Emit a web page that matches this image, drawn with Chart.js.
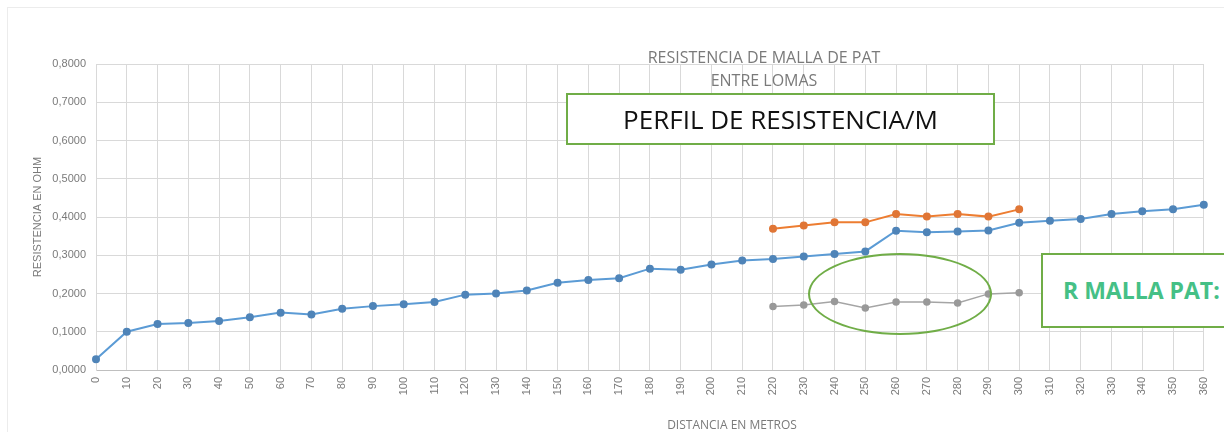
<!DOCTYPE html>
<html lang="es">

<head>
  <meta charset="UTF-8">
  <title>Resistencia de malla de PAT - Entre Lomas</title>
  <script src="https://cdn.jsdelivr.net/npm/chart.js"></script>
  <style>
    html, body {
      margin: 0;
      padding: 0;
      background: #fff;
      overflow: hidden;
    }
    .wrap {
      position: relative;
      width: 1224px;
      height: 432px;
    }
    .frame {
      position: absolute;
      left: 7px;
      top: 7px;
      width: 1230px;
      height: 440px;
      border: 1px solid #ececec;
    }
    .title {
      position: absolute;
      left: 564px;
      width: 400px;
      text-align: center;
      font-family: "Open Sans", sans-serif;
      font-size: 16px;
      color: #7a7a7a;
    }
    .xtitle {
      position: absolute;
      left: 582px;
      top: 416px;
      width: 300px;
      text-align: center;
      font-family: "Open Sans", sans-serif;
      font-size: 12px;
      color: #7a7a7a;
    }
    .box-perfil {
      position: absolute;
      left: 566px;
      top: 93px;
      width: 425px;
      height: 48px;
      border: 2px solid #70ad47;
      background: #fff;
      font-family: "Open Sans", sans-serif;
      font-size: 26px;
      line-height: 48px;
      text-align: center;
      color: #111;
    }
    .box-malla {
      position: absolute;
      left: 1041px;
      top: 253px;
      width: 220px;
      height: 71px;
      border: 2px solid #70ad47;
      background: #fff;
      font-family: "Open Sans", sans-serif;
      font-weight: bold;
      font-size: 23px;
      line-height: 71px;
      color: #45c086;
      padding-left: 20px;
      white-space: nowrap;
    }
    .ellipse {
      position: absolute;
      left: 808px;
      top: 253px;
      width: 180px;
      height: 78px;
      border: 2px solid #70ad47;
      border-radius: 50%;
    }
  </style>
</head>

<body>
  <div class="wrap">
    <canvas id="resChart" width="1224" height="432"></canvas>
    <div class="frame"></div>
    <div class="title" style="top:46px">RESISTENCIA DE MALLA DE PAT</div>
    <div class="title" style="top:69px">ENTRE LOMAS</div>
    <div class="box-perfil">PERFIL DE RESISTENCIA/M</div>
    <div class="ellipse"></div>
    <div class="box-malla">R MALLA PAT: 0</div>
    <div class="xtitle">DISTANCIA EN METROS</div>
  </div>

  <script>
    // distancias (m)
    const distancias = ['0', '10', '20', '30', '40', '50', '60', '70', '80', '90', '100', '110', '120', '130', '140',
      '150', '160', '170', '180', '190', '200', '210', '220', '230', '240', '250', '260', '270', '280', '290', '300',
      '310', '320', '330', '340', '350', '360'];

    // perfil de resistencia (azul)
    const serieAzul = [0.028, 0.100, 0.120, 0.123, 0.128, 0.138, 0.150, 0.145, 0.160, 0.167, 0.172, 0.178, 0.197,
      0.200, 0.208, 0.228, 0.235, 0.240, 0.265, 0.262, 0.276, 0.286, 0.290, 0.297, 0.303, 0.310, 0.364, 0.360,
      0.362, 0.365, 0.385, 0.390, 0.395, 0.408, 0.415, 0.420, 0.432];

    // naranja (220 a 300 m)
    const serieNaranja = [null, null, null, null, null, null, null, null, null, null, null, null, null, null, null,
      null, null, null, null, null, null, null, 0.369, 0.378, 0.386, 0.386, 0.408, 0.401, 0.408, 0.401, 0.420,
      null, null, null, null, null, null];

    // gris (220 a 300 m)
    const serieGris = [null, null, null, null, null, null, null, null, null, null, null, null, null, null, null,
      null, null, null, null, null, null, null, 0.166, 0.170, 0.179, 0.162, 0.178, 0.178, 0.175, 0.199, 0.202,
      null, null, null, null, null, null];

    const yTicks = [0, 0.1, 0.2, 0.3, 0.4, 0.5, 0.6, 0.7, 0.8];

    function serie(label, data, color, pointColor, width) {
      return {
        label: label,
        data: data,
        borderColor: color,
        backgroundColor: pointColor,
        pointBorderColor: pointColor,
        borderWidth: width,
        pointRadius: 3,
        pointHoverRadius: 3,
        tension: 0,
        spanGaps: false
      };
    }

    const ctx = document.getElementById('resChart').getContext('2d');
    new Chart(ctx, {
      type: 'line',
      data: {
        labels: distancias,
        datasets: [
          serie('Gris', serieGris, '#a5a5a5', '#999999', 1.5),
          serie('Naranja', serieNaranja, '#ed7d31', '#e07636', 2),
          serie('Azul', serieAzul, '#5b9bd5', '#4f84b8', 2)
        ]
      },
      options: {
        responsive: false,
        animation: false,
        layout: {
          padding: { left: 28, right: 5, top: 64, bottom: 0 }
        },
        plugins: {
          legend: { display: false },
          tooltip: { enabled: false }
        },
        scales: {
          x: {
            offset: false,
            grid: { color: '#d9d9d9', drawTicks: false },
            border: { color: '#bfbfbf' },
            ticks: {
              autoSkip: false,
              minRotation: 90,
              maxRotation: 90,
              padding: 7,
              color: '#7a7a7a',
              font: { family: 'Liberation Sans', size: 11 }
            },
            afterFit: function (scale) { scale.height = 62; }
          },
          y: {
            min: 0,
            max: 0.8,
            grid: { color: '#d9d9d9', drawTicks: false },
            border: { color: '#d9d9d9' },
            afterBuildTicks: function (scale) {
              scale.ticks = yTicks.map(v => ({ value: v }));
            },
            ticks: {
              padding: 10,
              color: '#7a7a7a',
              font: { family: 'Liberation Sans', size: 11 },
              callback: v => Number(v).toFixed(4).replace('.', ',')
            },
            title: {
              display: true,
              text: 'RESISTENCIA EN OHM',
              color: '#7a7a7a',
              font: { family: 'Liberation Sans', size: 11 },
              padding: { top: 3, bottom: 3 }
            },
            afterFit: function (scale) { scale.width = 68; }
          }
        }
      }
    });
  </script>
</body>

</html>
